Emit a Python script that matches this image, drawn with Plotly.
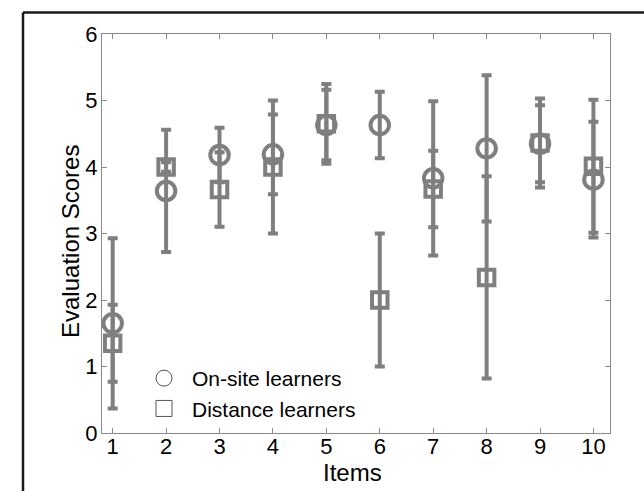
import plotly.graph_objects as go

items = [1, 2, 3, 4, 5, 6, 7, 8, 9, 10]
onsite_mean = [1.65, 3.64, 4.18, 4.19, 4.63, 4.63, 3.83, 4.28, 4.35, 3.81]
onsite_sd = [1.28, 0.92, 0.41, 0.60, 0.53, 0.50, 1.16, 1.10, 0.58, 0.87]
distance_mean = [1.35, 4.00, 3.66, 4.00, 4.65, 2.00, 3.67, 2.34, 4.36, 4.01]
distance_sd = [0.58, 0.07, 0.56, 1.00, 0.60, 1.00, 0.575, 1.52, 0.67, 1.00]
x_ticks = list(range(1, 11))
y_ticks = list(range(0, 7))

GRAY = "#7f7f7f"
FONT = "Arial, 'Liberation Sans', sans-serif"

fig = go.Figure()
for mean, sd, sym, size in [(onsite_mean, onsite_sd, "circle-open", 18.5),
                            (distance_mean, distance_sd, "square-open", 15.5)]:
    fig.add_trace(go.Scatter(
        x=items, y=mean, mode="markers", showlegend=False,
        marker=dict(symbol=sym, size=size, color=GRAY, line=dict(width=4, color=GRAY)),
        error_y=dict(type="data", array=sd, color=GRAY, thickness=4, width=5),
    ))

for name, sym in [("On-site learners", "circle-open"), ("Distance learners", "square-open")]:
    fig.add_trace(go.Scatter(
        x=[None], y=[None], mode="markers", name=name,
        marker=dict(symbol=sym, size=18, color="#555555", line=dict(width=1, color="#555555")),
    ))

axis_common = dict(
    showline=True, linecolor="#8a8a8a", linewidth=1, mirror="ticks",
    ticks="inside", ticklen=5, tickcolor="#8a8a8a", tickwidth=1,
    showgrid=False, zeroline=False,
    tickfont=dict(family=FONT, size=22, color="black"),
)

fig.update_xaxes(range=[0.8, 10.31], tickvals=x_ticks, ticklabelstandoff=-6, **axis_common)
fig.update_yaxes(range=[0, 6], tickvals=y_ticks, ticklabelstandoff=-1, **axis_common)

L, R, T, B = 102, 34, 34, 58
W, H = 644, 491
pw, ph = W - L - R, H - T - B

def px(xpix):
    return (xpix - L) / pw

def py(ypix):
    return (H - B - ypix) / ph

fig.add_annotation(text="Items", xref="paper", yref="paper", x=px(352), y=py(472),
                   xanchor="center", yanchor="middle", showarrow=False,
                   font=dict(family=FONT, size=24, color="black"))
fig.add_annotation(text="Evaluation Scores", xref="paper", yref="paper", x=px(70), y=py(242),
                   xanchor="center", yanchor="middle", showarrow=False, textangle=-90,
                   font=dict(family=FONT, size=24, color="black"))

fig.add_shape(type="line", xref="paper", yref="paper", x0=px(23), x1=px(646), y0=py(12.5), y1=py(12.5),
              line=dict(color="#1a1a1a", width=2.5))
fig.add_shape(type="line", xref="paper", yref="paper", x0=px(23), x1=px(23), y0=py(12.5), y1=py(493),
              line=dict(color="#1a1a1a", width=2.5))

fig.update_layout(
    width=W, height=H, margin=dict(l=L, r=R, t=T, b=B),
    paper_bgcolor="white", plot_bgcolor="white",
    font=dict(family=FONT, color="black"),
    legend=dict(x=px(136), y=py(358), xanchor="left", yanchor="top",
                bgcolor="rgba(0,0,0,0)", font=dict(family=FONT, size=21, color="black"),
                itemwidth=46, tracegroupgap=0),
)

fig.write_html("out.html")
